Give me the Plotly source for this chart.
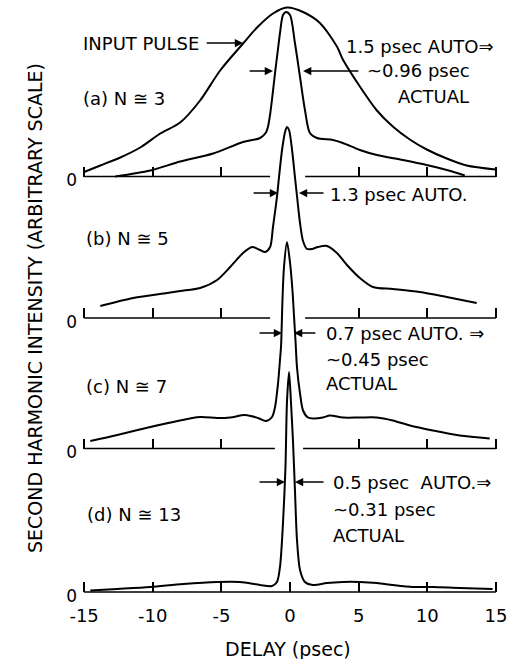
import plotly.graph_objects as go

# ---------------- data (delay in psec, SH intensity in arbitrary units) ----------------
input_delay = [-15.0, -13.82, -12.36, -10.91, -9.45, -8.0, -6.55, -5.09, -3.42, -2.4, -1.24,
               -0.22, 0.95, 2.18, 3.42, 3.85, 5.09, 6.33, 7.49, 8.73, 9.96, 11.42, 12.87, 14.98]
input_int = [0.045, 0.11, 0.19, 0.29, 0.43, 0.54, 0.76, 1.06, 1.33, 1.49, 1.63,
             1.69, 1.645, 1.535, 1.30, 1.17, 0.90, 0.66, 0.50, 0.37, 0.27, 0.18, 0.11, 0.07]

a_delay = [-12.73, -10.18, -8.0, -5.6, -3.42, -2.18, -1.75, -1.6, -1.45, -1.31, -1.09, -0.87,
           -0.73, -0.51, -0.29, 0.0, 0.36, 0.73, 1.09, 1.45, 1.96, 3.13, 3.85, 5.09, 6.33,
           8.22, 9.96, 11.42, 12.73]
a_int = [0.0, 0.06, 0.15, 0.23, 0.345, 0.385, 0.44, 0.50, 0.62, 0.77, 1.035, 1.28,
         1.435, 1.615, 1.645, 1.615, 1.335, 0.995, 0.665, 0.435, 0.385, 0.365, 0.335, 0.265, 0.215,
         0.165, 0.115, 0.065, 0.01]

b_delay = [-13.82, -11.42, -8.95, -8.0, -6.55, -5.31, -4.36, -3.42, -2.76, -2.18, -1.82, -1.45,
           -1.24, -0.95, -0.8, -0.58, -0.36, -0.22, -0.07, 0.15, 0.36, 0.51, 0.73, 0.95, 1.24,
           1.6, 2.04, 2.69, 3.42, 4.15, 5.09, 6.04, 7.49, 9.45, 11.42, 13.6]
b_int = [0.12, 0.20, 0.25, 0.27, 0.30, 0.38, 0.51, 0.65, 0.71, 0.68, 0.66, 0.71,
         0.91, 1.21, 1.41, 1.68, 1.86, 1.91, 1.88, 1.68, 1.41, 1.22, 0.95, 0.77, 0.69,
         0.69, 0.71, 0.72, 0.65, 0.53, 0.40, 0.31, 0.29, 0.26, 0.21, 0.15]

c_delay = [-14.55, -12.58, -10.18, -8.51, -6.55, -5.31, -4.36, -3.27, -2.33, -1.75, -1.31,
           -1.09, -0.87, -0.73, -0.65, -0.55, -0.44, -0.22, 0.0, 0.18, 0.29, 0.4, 0.51, 0.73,
           0.95, 1.31, 1.67, 2.4, 2.91, 3.85, 5.09, 6.33, 7.49, 8.73, 10.4, 12.36, 14.55]
c_int = [0.075, 0.135, 0.215, 0.265, 0.315, 0.305, 0.31, 0.335, 0.305, 0.275, 0.315,
         0.415, 0.655, 0.885, 1.03, 1.48, 1.81, 2.065, 1.86, 1.58, 1.33, 1.08, 0.81, 0.55,
         0.38, 0.31, 0.30, 0.31, 0.33, 0.31, 0.31, 0.31, 0.28, 0.23, 0.18, 0.13, 0.10]

d_delay = [-14.55, -12.58, -10.18, -7.78, -5.31, -3.64, -2.18, -1.31, -0.95, -0.73, -0.51,
           -0.33, -0.22, -0.07, 0.07, 0.22, 0.36, 0.51, 0.73, 1.09, 1.67, 2.69, 3.85, 5.09,
           6.33, 7.49, 8.95, 10.4, 12.36, 14.76]
d_int = [0.015, 0.03, 0.05, 0.08, 0.10, 0.10, 0.07, 0.06, 0.10, 0.25, 0.69,
         1.25, 1.90, 2.20, 1.90, 1.50, 1.02, 0.52, 0.22, 0.10, 0.07, 0.09, 0.10, 0.10,
         0.09, 0.07, 0.05, 0.05, 0.04, 0.03]

panel_labels = ["(a) N ≅ 3", "(b) N ≅ 5", "(c) N ≅ 7", "(d) N ≅ 13"]
x_tick_vals = [-15, -10, -5, 0, 5, 10, 15]
x_tick_text = ["-15", "-10", "-5", "0", "5", "10", "15"]
x_title = "DELAY (psec)"
y_title = "SECOND HARMONIC INTENSITY (ARBITRARY SCALE)"

# ---------------- layout constants ----------------
W, H = 528, 659
ML, MR, MT, MB = 80, 28, 4, 59
PLOT_H = H - MT - MB
PLOT_BOTTOM = H - MB
PX_PER_UNIT = 100.0
BASE_PX = [176.5, 318.0, 448.5, 592.0]          # baseline rows of panels a-d
GAPS = [(-1.45, 1.1), (-1.45, 1.1), (-1.1, 0.95), None]
XR = [-15.3, 15.3]
FONT = "DejaVu Sans"
INK = "black"
LW = 2.0
ids = ["", "2", "3", "4"]

panel_curves = [
    [(input_delay, input_int), (a_delay, a_int)],
    [(b_delay, b_int)],
    [(c_delay, c_int)],
    [(d_delay, d_int)],
]

fig = go.Figure()

for k, curves in enumerate(panel_curves):
    xa, ya = "x" + ids[k], "y" + ids[k]
    for dx, dy in curves:
        fig.add_trace(go.Scatter(x=dx, y=dy, mode="lines", xaxis=xa, yaxis=ya,
                                 line=dict(color=INK, width=LW, shape="spline", smoothing=0.8),
                                 showlegend=False, hoverinfo="skip"))
    # baseline (broken where the next trace's peak passes through)
    g = GAPS[k]
    if g:
        bx = [x_tick_vals[0], g[0], None, g[1], x_tick_vals[-1]]
        by = [0, 0, None, 0, 0]
    else:
        bx = [x_tick_vals[0], x_tick_vals[-1]]
        by = [0, 0]
    fig.add_trace(go.Scatter(x=bx, y=by, mode="lines", xaxis=xa, yaxis=ya,
                             line=dict(color=INK, width=1.6), showlegend=False,
                             hoverinfo="skip", connectgaps=False))

    p = BASE_PX[k]
    last = (k == 3)
    tv = x_tick_vals if last else [v for v in x_tick_vals if v != 0]
    xaxis = dict(range=XR, showgrid=False, zeroline=False, showline=False,
                 ticks="inside", ticklen=10, tickwidth=1.6, tickcolor=INK,
                 tickvals=tv, ticktext=x_tick_text if last else None,
                 showticklabels=last, tickfont=dict(family=FONT, size=18, color=INK),
                 anchor="free", position=(PLOT_BOTTOM - p) / PLOT_H, fixedrange=True)
    if last:
        xaxis["ticklabelstandoff"] = 11
    yaxis = dict(domain=[0, 1], range=[(p - PLOT_BOTTOM) / PX_PER_UNIT, (p - MT) / PX_PER_UNIT],
                 showgrid=False, zeroline=False, showline=False, ticks="",
                 tickvals=[0], ticktext=["0"], tickfont=dict(family=FONT, size=17, color=INK),
                 ticklabelshift=4, ticklabelstandoff=2,
                 anchor="x" + ids[k], side="left", fixedrange=True)
    if k > 0:
        xaxis["overlaying"] = "x"
        yaxis["overlaying"] = "y"
    fig.update_layout(**{"xaxis" + ids[k]: xaxis, "yaxis" + ids[k]: yaxis})

# ---------------- annotations ----------------
ann = []

def text(k, x, y, s, size=18):
    ann.append(dict(x=x, y=y, xref="x" + ids[k], yref="y" + ids[k], text=s, showarrow=False,
                    xanchor="left", yanchor="middle", font=dict(family=FONT, size=size, color=INK)))

def arrow(k, x_head, x_tail, y):
    ann.append(dict(x=x_head, y=y, ax=x_tail, ay=y, xref="x" + ids[k], yref="y" + ids[k],
                    axref="x" + ids[k], ayref="y" + ids[k], text="", showarrow=True,
                    arrowhead=2, arrowsize=1.1, arrowwidth=1.5, arrowcolor=INK, standoff=0))

# panel labels
label_pos = [(-15.2, 0.785), (-14.98, 0.80), (-14.98, 0.625), (-14.9, 0.78)]
for k, (lx, ly) in enumerate(label_pos):
    text(k, lx, ly, panel_labels[k])

# (a)
text(0, -15.2, 1.335, "INPUT PULSE")
arrow(0, -3.42, -6.18, 1.335)
text(0, 3.9, 1.305, "1.5 psec AUTO⇒")
text(0, 5.45, 1.065, "~0.96 psec")
text(0, 7.75, 0.805, "ACTUAL")
arrow(0, -1.24, -3.05, 1.055)
arrow(0, 0.95, 5.09, 1.055)
# (b)
text(1, 2.8, 1.24, "1.3 psec AUTO.")
arrow(1, -0.87, -2.76, 1.25)
arrow(1, 0.65, 2.55, 1.25)
# (c)
text(2, 2.45, 1.155, "0.7 psec AUTO. ⇒")
text(2, 2.45, 0.895, "~0.45 psec")
text(2, 2.45, 0.655, "ACTUAL")
arrow(2, -0.58, -2.33, 1.155)
arrow(2, 0.29, 1.96, 1.155)
# (d)
text(3, 3.0, 1.10, "0.5 psec  AUTO.⇒")
text(3, 3.0, 0.83, "~0.31 psec")
text(3, 3.0, 0.57, "ACTUAL")
arrow(3, -0.36, -2.33, 1.10)
arrow(3, 0.36, 2.55, 1.10)

# axis titles
ann.append(dict(x=(35 - ML) / (W - ML - MR), y=(PLOT_BOTTOM - 308) / PLOT_H, xref="paper", yref="paper",
                text=y_title, textangle=-90, showarrow=False, xanchor="center", yanchor="middle",
                font=dict(family=FONT, size=19, color=INK)))
ann.append(dict(x=(288 - ML) / (W - ML - MR), y=(PLOT_BOTTOM - 649) / PLOT_H, xref="paper", yref="paper",
                text=x_title, showarrow=False, xanchor="center", yanchor="middle",
                font=dict(family=FONT, size=19, color=INK)))

fig.update_layout(width=W, height=H, margin=dict(l=ML, r=MR, t=MT, b=MB, pad=0),
                  paper_bgcolor="white", plot_bgcolor="white", showlegend=False,
                  annotations=ann, font=dict(family=FONT, color=INK))

fig.write_html("out.html", config={"displayModeBar": False})
